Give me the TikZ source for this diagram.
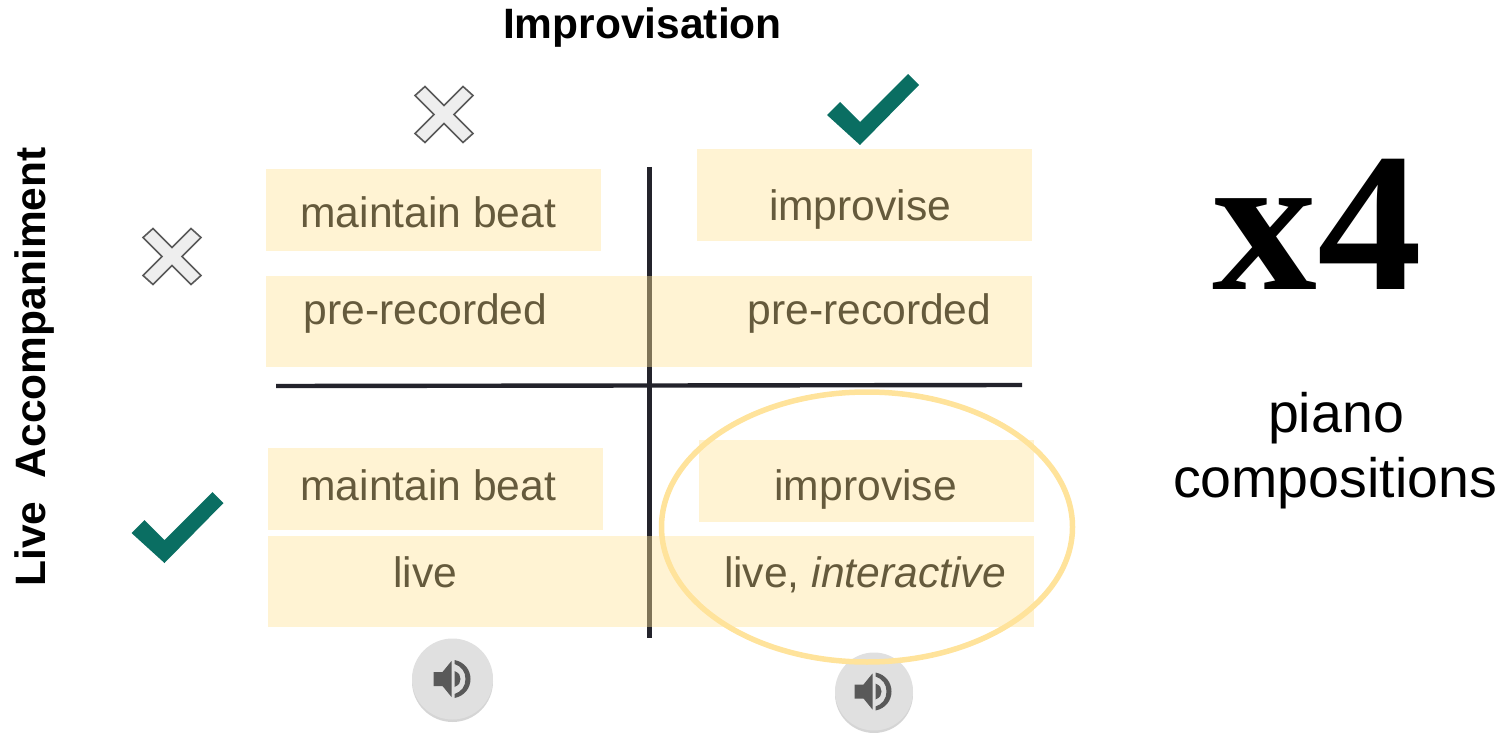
\documentclass[tikz,border=0pt]{standalone}
\usepackage{fontspec}
\setmainfont{Liberation Sans}
\newfontfamily\serifbold{Liberation Serif}
\usetikzlibrary{shadows,shapes.geometric}
\definecolor{boxfill}{HTML}{FFE296}
\definecolor{boxtext}{HTML}{655A3C}
\definecolor{rule}{HTML}{23232B}
\definecolor{checkc}{HTML}{0A6E62}
\definecolor{crossline}{HTML}{595959}
\definecolor{crossfill}{HTML}{EEEEEE}
\definecolor{ringc}{HTML}{FFE39B}
\definecolor{btnfill}{HTML}{E0E0E0}
\tikzset{
  band/.style n args={2}{draw=none,fill=boxfill,fill opacity=.42,minimum width=#1,minimum height=#2,inner sep=0pt,outer sep=0pt,anchor=north west},
  bandtext/.style={anchor=base west,inner sep=0pt,outer sep=0pt,text=boxtext,font=\fontsize{42.6}{50}\selectfont},
  heading/.style={inner sep=0pt,outer sep=0pt,text=black,font=\fontsize{42.5}{50}\selectfont\bfseries},
  bigtext/.style={inner sep=0pt,outer sep=0pt,anchor=base,text=black,font=\fontsize{55.5}{60}\selectfont},
  axisline/.style={draw=rule,line width=4.4pt},
  checkmark/.style={fill=checkc,draw=none},
  crossmark/.style={fill=crossfill,draw=crossline,line width=1.6pt,line join=miter},
  soundbtn/.style={circle,fill=btnfill,draw=none,inner sep=0pt,outer sep=0pt,drop shadow={shadow xshift=0pt,shadow yshift=-2.5pt,opacity=.3,fill=black!55}},
  soundicon/.style={fill=crossline,draw=none}
}
\newcommand{\crossat}[2]{\path[crossmark,shift={(#1,#2)}] (-19,-28) -- (0,-9) -- (19,-28) -- (29,-19) -- (10,0) -- (29,19) -- (19,28) -- (0,9) -- (-19,28) -- (-29,19) -- (-10,0) -- (-29,-19) -- cycle;}
\newcommand{\checkat}[2]{\path[checkmark,shift={(#1,#2)}] (908,74) -- (919,85) -- (860,145) -- (827,115) -- (840,102) -- (860,122) -- cycle;}
\newcommand{\speakerat}[2]{\path[soundicon,shift={(#1,#2)}] (-19,-7) -- (-10,-7) -- (-1,-18) -- (-1,18) -- (-10,7) -- (-19,7) -- cycle
   (2,-8) .. controls (7,-6) and (8,-3) .. (8,0) .. controls (8,3) and (7,6) .. (2,8) -- cycle
   (2,-19) .. controls (12,-17) and (18,-9) .. (18,0) .. controls (18,9) and (12,17) .. (2,19) -- (2,15) .. controls (9,13) and (13,7) .. (13,0) .. controls (13,-7) and (9,-13) .. (2,-15) -- cycle;}
\begin{document}
\begin{tikzpicture}[x=1pt,y=-1pt]
\useasboundingbox (0,0) rectangle (1505,733);
% axes
\coordinate (vtop) at (649.5,167);
\coordinate (vbot) at (649.5,638);
\coordinate (hleft) at (276,386);
\coordinate (hright) at (1022,385);
\draw[axisline] (vtop) -- (vbot);
\draw[axisline] (hleft) -- (hright);
% bands
\node[band={335pt}{82pt}] (b1) at (266,169) {};
\node[band={335pt}{92pt}] (b2) at (697,149) {};
\node[band={766pt}{91pt}] (b3) at (266,276) {};
\node[band={335pt}{82pt}] (b4) at (268,448) {};
\node[band={335pt}{82pt}] (b5) at (699,440) {};
\node[band={766pt}{91pt}] (b6) at (268,536) {};
% band texts
\node[bandtext] (t1) at (300.5,227) {maintain beat};
\node[bandtext] (t2) at (769,220) {improvise};
\node[bandtext] (t3) at (303.5,324) {pre-recorded};
\node[bandtext] (t4) at (747.5,324) {pre-recorded};
\node[bandtext] (t5) at (300.5,500) {maintain beat};
\node[bandtext] (t6) at (774.5,500) {improvise};
\node[bandtext] (t7) at (393.5,587) {live};
\node[bandtext] (t8) at (724,587) {live, \textit{interactive}};
% headings
\node[heading] (imp) at (642.5,27.5) {Improvisation};
\node[heading,rotate=90] (acc) at (35,367) {Live\ \ Accompaniment};
% marks
\crossat{444}{114.5}
\crossat{172}{256.5}
\checkat{0}{0}
\checkat{-695.5}{418}
% sound buttons
\node[soundbtn,minimum size=81pt] (s1) at (452.5,679) {};
\node[soundbtn,minimum size=78pt] (s2) at (874,691.5) {};
\speakerat{452.5}{679}
\speakerat{873.5}{691.5}
% highlight ring
\node[draw=ringc,line width=5.5pt,ellipse,minimum width=411pt,minimum height=270pt,inner sep=0pt] (ring) at (867,527) {};
% right side
\node[inner sep=0pt,outer sep=0pt,anchor=base,text=black,font=\serifbold\fontsize{198}{200}\selectfont\bfseries,xscale=1.06] (x4) at (1317,289.5) {x4};
\node[bigtext] (p1) at (1336,432) {piano};
\node[bigtext] (p2) at (1335,497) {compositions};
\end{tikzpicture}
\end{document}
